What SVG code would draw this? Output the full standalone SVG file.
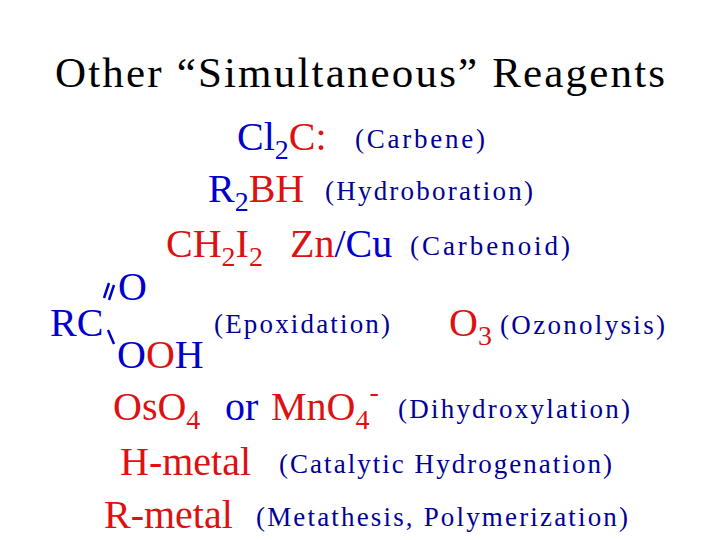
<svg xmlns="http://www.w3.org/2000/svg" width="720" height="540" viewBox="0 0 720 540" font-family="'Liberation Serif', 'Times New Roman', 'DejaVu Serif', serif">
<style>
text{font-family:'Liberation Serif','Times New Roman','DejaVu Serif',serif}
.b{fill:#0000cc;font-size:40px}
.r{fill:#dd1111;font-size:40px}
.l{fill:#000099;font-size:27px}
.s{font-size:28px}
</style>
<rect width="720" height="540" fill="#fff"/>
<text x="360" y="87" font-size="43" text-anchor="middle" fill="#000" textLength="610">Other “Simultaneous” Reagents</text>
<g id="carbene"><text x="237" y="150"><tspan class="b">Cl</tspan><tspan class="b s" dy="9">2</tspan><tspan class="r" dy="-9">C:</tspan></text>
<text class="l" x="355" y="148" textLength="130">(Carbene)</text></g>
<g id="hydroboration"><text x="208" y="202"><tspan class="b">R</tspan><tspan class="b s" dy="9">2</tspan><tspan class="r" dy="-9">BH</tspan></text>
<text class="l" x="325" y="200" textLength="208">(Hydroboration)</text></g>
<g id="carbenoid"><text x="166" y="257"><tspan class="r">CH</tspan><tspan class="r s" dy="9">2</tspan><tspan class="r" dy="-9">I</tspan><tspan class="r s" dy="9">2</tspan></text>
<text x="290" y="257"><tspan class="r">Zn</tspan><tspan class="b">/Cu</tspan></text>
<text class="l" x="410" y="255" textLength="160">(Carbenoid)</text></g>
<g id="peracid">
<text class="b" x="118" y="300">O</text>
<text class="b" x="50" y="336">RC</text>
<text x="117" y="368"><tspan class="b">O</tspan><tspan class="r">O</tspan><tspan class="b">H</tspan></text>
<g stroke="#0000cc" stroke-width="2.5"><line x1="109" y1="300" x2="114" y2="285"/><line x1="104" y1="298" x2="109" y2="283"/><line x1="108" y1="330" x2="114" y2="344"/></g>
<text class="l" x="214" y="333" textLength="176">(Epoxidation)</text></g>
<g id="ozonolysis"><text x="449" y="336"><tspan class="r">O</tspan><tspan class="r s" dy="9">3</tspan></text>
<text class="l" x="500" y="334" textLength="165">(Ozonolysis)</text></g>
<g id="dihydroxylation"><text x="113" y="420"><tspan class="r">OsO</tspan><tspan class="r s" dy="9">4</tspan></text>
<text class="b" x="225" y="420">or</text>
<text x="271" y="420"><tspan class="r">MnO</tspan><tspan class="r s" dy="9">4</tspan><tspan class="r s" dy="-28">-</tspan></text>
<text class="l" x="398" y="418" textLength="232">(Dihydroxylation)</text></g>
<g id="hydrogenation"><text class="r" x="120" y="475">H-metal</text>
<text class="l" x="279" y="473" textLength="333">(Catalytic Hydrogenation)</text></g>
<g id="metathesis"><text class="r" x="104" y="528">R-metal</text>
<text class="l" x="256" y="526" textLength="372">(Metathesis, Polymerization)</text></g>
</svg>
